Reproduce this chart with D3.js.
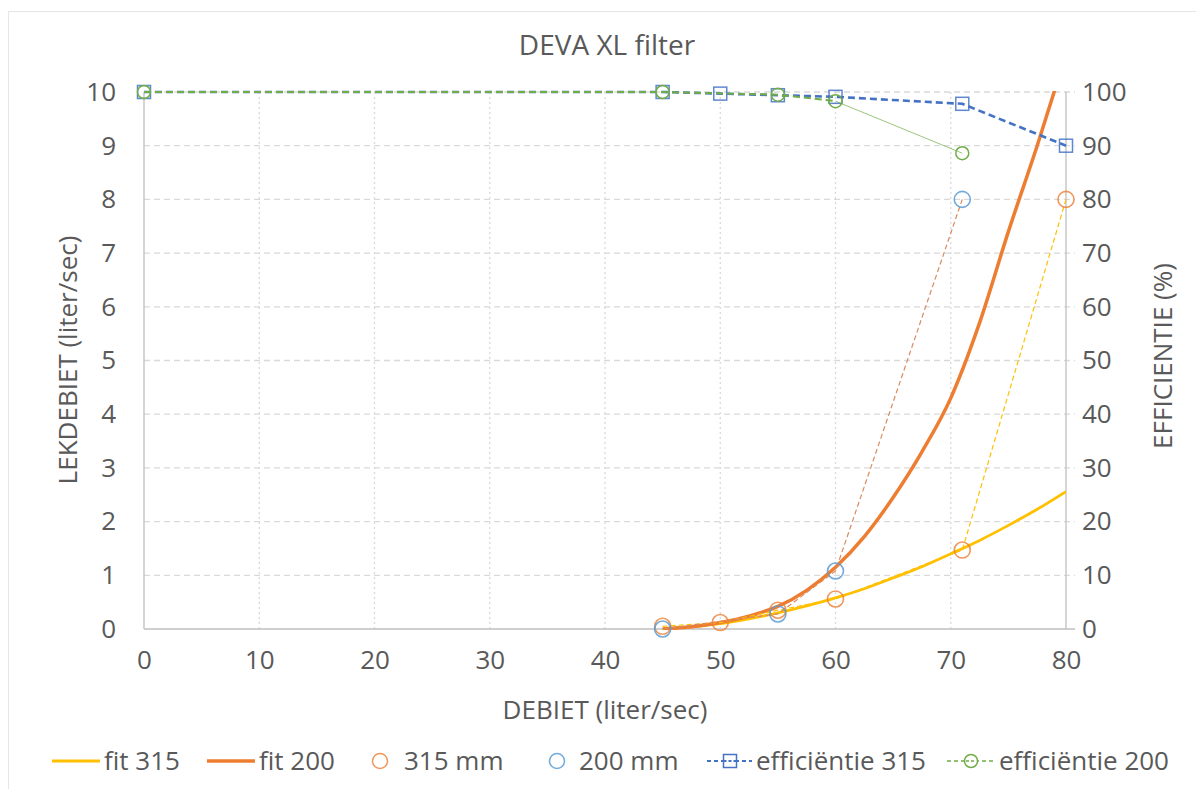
<!DOCTYPE html>
<html>
<head>
<meta charset="utf-8">
<script src="https://cdn.jsdelivr.net/npm/d3@7"></script>
<style>
  body { margin: 0; background: #fff; }
  svg { font-family: "Open Sans", sans-serif; }
  .tick-label { fill: #595959; font-size: 26px; }
  .axis-title { fill: #595959; font-size: 26px; }
  .legend-label { fill: #595959; font-size: 26px; }
</style>
</head>
<body>
<svg width="1196" height="789"></svg>
<script>
// Fitted curves.
var fitX = [45, 47.5, 50, 52.5, 55, 57.5, 60, 62.5, 65, 67.5, 70, 72.5, 75, 77.5, 80];
var fit315 = [0, 0.04, 0.1, 0.19, 0.3, 0.43, 0.58, 0.75, 0.95, 1.16, 1.4, 1.65, 1.93, 2.23, 2.56];
var fit200 = [0, 0.04, 0.12, 0.24, 0.42, 0.72, 1.15, 1.72, 2.45, 3.3, 4.3, 5.7, 7.4, 9.0, 10.7];

// Measured leak flow (liter/sec).
var x315 = [45, 50, 55, 60, 71, 80];
var y315 = [0.05, 0.12, 0.35, 0.56, 1.47, 8];
var x200 = [45, 55, 60, 71];
var y200 = [0, 0.28, 1.08, 8];

// Efficiency (%).
var xEff315 = [0, 45, 50, 55, 60, 71, 80];
var yEff315 = [100, 100, 99.7, 99.4, 99.1, 97.8, 90];
var xEff200 = [0, 45, 55, 60, 71];
var yEff200 = [100, 100, 99.5, 98.3, 88.6];

var xTicks = [0, 10, 20, 30, 40, 50, 60, 70, 80];
var yTicks = [0, 1, 2, 3, 4, 5, 6, 7, 8, 9, 10];
var y2Ticks = [0, 10, 20, 30, 40, 50, 60, 70, 80, 90, 100];

var C = {
    fit315: "#FFC000",
    fit200: "#ED7D31",
    pts315: "#ED7D31",
    pts200: "#5B9BD5",
    eff315: "#4472C4",
    eff200: "#70AD47",
    text: "#595959",
    grid: "#D9D9D9",
    axis: "#BFBFBF"
};

var pLeft = 144, pRight = 1066, pTop = 92, pBottom = 629;

var svg = d3.select("svg");
var x = d3.scaleLinear().domain([0, 80]).range([pLeft, pRight]);
var y = d3.scaleLinear().domain([0, 10]).range([pBottom, pTop]);
var y2 = d3.scaleLinear().domain([0, 100]).range([pBottom, pTop]);

function zip(xs, ys) {
    return xs.map(function(v, i) { return [v, ys[i]]; });
}

// Chart frame.
svg.append("rect")
    .attr("x", 8.5).attr("y", 11.5)
    .attr("width", 1196).attr("height", 800)
    .attr("fill", "none").attr("stroke", "#E6E6E6");

// Title.
svg.append("text")
    .attr("x", 607).attr("y", 55)
    .attr("text-anchor", "middle")
    .attr("fill", C.text)
    .style("font-size", "28px")
    .text("DEVA XL filter");

// Grid lines.
var grid = svg.append("g");
grid.selectAll("line.h")
    .data(yTicks.slice(1))
    .enter().append("line")
    .attr("x1", pLeft).attr("x2", pRight + 9)
    .attr("y1", function(d) { return y(d); })
    .attr("y2", function(d) { return y(d); })
    .attr("stroke", C.grid).attr("stroke-width", 1.3)
    .attr("stroke-dasharray", "6,4");
grid.selectAll("line.v")
    .data(xTicks.slice(1, -1))
    .enter().append("line")
    .attr("y1", pTop).attr("y2", pBottom)
    .attr("x1", function(d) { return x(d); })
    .attr("x2", function(d) { return x(d); })
    .attr("stroke", C.grid).attr("stroke-width", 1.3)
    .attr("stroke-dasharray", "2,3");

// Axis lines.
svg.append("line").attr("x1", pLeft).attr("x2", pLeft).attr("y1", pTop).attr("y2", pBottom)
    .attr("stroke", C.axis).attr("stroke-width", 1.3);
svg.append("line").attr("x1", pLeft).attr("x2", pRight + 9).attr("y1", pBottom).attr("y2", pBottom)
    .attr("stroke", C.axis).attr("stroke-width", 1.3);
svg.append("line").attr("x1", pRight).attr("x2", pRight).attr("y1", pTop).attr("y2", pBottom)
    .attr("stroke", C.axis).attr("stroke-width", 1.3);

// Axes via d3, then restyle.
function styleAxis(g) {
    g.select(".domain").remove();
    g.selectAll(".tick line").remove();
    g.selectAll(".tick text")
        .attr("class", "tick-label")
        .attr("fill", C.text)
        .style("font-family", "Open Sans")
        .style("font-size", "26px");
}

svg.append("g")
    .attr("transform", "translate(0," + pBottom + ")")
    .call(d3.axisBottom(x).tickValues(xTicks).tickSize(0).tickPadding(22))
    .call(styleAxis);

svg.append("g")
    .attr("transform", "translate(" + pLeft + ",0)")
    .call(d3.axisLeft(y).tickValues(yTicks).tickSize(0).tickPadding(28))
    .call(styleAxis);

svg.append("g")
    .attr("transform", "translate(" + pRight + ",0)")
    .call(d3.axisRight(y2).tickValues(y2Ticks).tickSize(0).tickPadding(16))
    .call(styleAxis);

// Axis titles.
svg.append("text").attr("class", "axis-title")
    .attr("x", 605).attr("y", 719)
    .attr("text-anchor", "middle")
    .text("DEBIET (liter/sec)");
svg.append("text").attr("class", "axis-title")
    .attr("transform", "translate(77,360) rotate(-90)")
    .attr("text-anchor", "middle")
    .text("LEKDEBIET (liter/sec)");
svg.append("text").attr("class", "axis-title")
    .attr("transform", "translate(1172,356) rotate(-90)")
    .attr("text-anchor", "middle")
    .text("EFFICIENTIE (%)");

// Clip to plot.
svg.append("clipPath").attr("id", "plot")
    .append("rect").attr("x", pLeft).attr("y", pTop - 1)
    .attr("width", pRight - pLeft).attr("height", pBottom - pTop + 2);

var plot = svg.append("g").attr("clip-path", "url(#plot)");
var marks = svg.append("g");

var smooth = d3.line()
    .x(function(d) { return x(d[0]); })
    .y(function(d) { return y(d[1]); })
    .curve(d3.curveMonotoneX);
var straight = d3.line()
    .x(function(d) { return x(d[0]); })
    .y(function(d) { return y(d[1]); });
var straight2 = d3.line()
    .x(function(d) { return x(d[0]); })
    .y(function(d) { return y2(d[1]); });

// Fit curves.
plot.append("path").datum(zip(fitX, fit315))
    .attr("d", smooth).attr("fill", "none")
    .attr("stroke", C.fit315).attr("stroke-width", 2.8);
plot.append("path").datum(zip(fitX, fit200))
    .attr("d", smooth).attr("fill", "none")
    .attr("stroke", C.fit200).attr("stroke-width", 3.5);

// Thin connectors of the measured series.
marks.append("path").datum(zip(x315, y315))
    .attr("d", straight).attr("fill", "none")
    .attr("stroke", C.fit315).attr("stroke-width", 1.2)
    .attr("stroke-dasharray", "5,3");
marks.append("path").datum(zip(x200, y200))
    .attr("d", straight).attr("fill", "none")
    .attr("stroke", "#D98B5F").attr("stroke-width", 1.2)
    .attr("stroke-dasharray", "5,3");

// Measured points.
marks.selectAll("circle.p315")
    .data(zip(x315, y315))
    .enter().append("circle")
    .attr("cx", function(d) { return x(d[0]); })
    .attr("cy", function(d) { return y(d[1]); })
    .attr("r", 8)
    .attr("fill", "none").attr("stroke", C.pts315)
    .attr("stroke-opacity", 0.8).attr("stroke-width", 1.6);
marks.selectAll("circle.p200")
    .data(zip(x200, y200))
    .enter().append("circle")
    .attr("cx", function(d) { return x(d[0]); })
    .attr("cy", function(d) { return y(d[1]); })
    .attr("r", 8)
    .attr("fill", "none").attr("stroke", C.pts200)
    .attr("stroke-opacity", 0.85).attr("stroke-width", 1.6);

// Efficiency 315.
var eff315 = zip(xEff315, yEff315);
marks.append("path").datum(eff315)
    .attr("d", straight2).attr("fill", "none")
    .attr("stroke", C.eff315).attr("stroke-width", 2.6)
    .attr("stroke-dasharray", "7,4");
marks.selectAll("rect.e315")
    .data(eff315)
    .enter().append("rect")
    .attr("x", function(d) { return x(d[0]) - 6.5; })
    .attr("y", function(d) { return y2(d[1]) - 6.5; })
    .attr("width", 13).attr("height", 13)
    .attr("fill", "none").attr("stroke", C.eff315)
    .attr("stroke-opacity", 0.85).attr("stroke-width", 1.5);

// Efficiency 200: dashed while close to 100 %, thin afterwards.
var eff200 = zip(xEff200, yEff200);
var split = 3;
marks.append("path").datum(eff200.slice(0, split + 1))
    .attr("d", straight2).attr("fill", "none")
    .attr("stroke", C.eff200).attr("stroke-width", 2)
    .attr("stroke-dasharray", "7,4");
marks.append("path").datum(eff200.slice(split))
    .attr("d", straight2).attr("fill", "none")
    .attr("stroke", C.eff200).attr("stroke-opacity", 0.7)
    .attr("stroke-width", 1);
marks.selectAll("circle.e200")
    .data(eff200)
    .enter().append("circle")
    .attr("cx", function(d) { return x(d[0]); })
    .attr("cy", function(d) { return y2(d[1]); })
    .attr("r", 6.5)
    .attr("fill", "none").attr("stroke", C.eff200)
    .attr("stroke-width", 1.5);

// Legend.
var ly = 761;
var legend = svg.append("g");
function legendText(tx, label) {
    legend.append("text").attr("class", "legend-label")
        .attr("x", tx).attr("y", ly + 9).text(label);
}
legend.append("line").attr("x1", 52).attr("x2", 100).attr("y1", ly).attr("y2", ly)
    .attr("stroke", C.fit315).attr("stroke-width", 2.8);
legendText(104, "fit 315");
legend.append("line").attr("x1", 207).attr("x2", 255).attr("y1", ly).attr("y2", ly)
    .attr("stroke", C.fit200).attr("stroke-width", 3.5);
legendText(259, "fit 200");
legend.append("circle").attr("cx", 380).attr("cy", ly).attr("r", 7.5)
    .attr("fill", "none").attr("stroke", C.pts315).attr("stroke-opacity", 0.8).attr("stroke-width", 1.5);
legendText(404, "315 mm");
legend.append("circle").attr("cx", 557).attr("cy", ly).attr("r", 7.5)
    .attr("fill", "none").attr("stroke", C.pts200).attr("stroke-opacity", 0.85).attr("stroke-width", 1.5);
legendText(579, "200 mm");
legend.append("line").attr("x1", 707).attr("x2", 752).attr("y1", ly).attr("y2", ly)
    .attr("stroke", C.eff315).attr("stroke-width", 2).attr("stroke-dasharray", "4,3");
legend.append("rect").attr("x", 723.5).attr("y", ly - 6.5).attr("width", 13).attr("height", 13)
    .attr("fill", "#fff").attr("stroke", C.eff315).attr("stroke-width", 1.5);
legend.append("line").attr("x1", 723.5).attr("x2", 736.5).attr("y1", ly).attr("y2", ly)
    .attr("stroke", C.eff315).attr("stroke-width", 2).attr("stroke-dasharray", "3,2");
legendText(756, "efficiëntie 315");
legend.append("line").attr("x1", 947).attr("x2", 995).attr("y1", ly).attr("y2", ly)
    .attr("stroke", C.eff200).attr("stroke-width", 1.6).attr("stroke-dasharray", "4,3");
legend.append("circle").attr("cx", 971).attr("cy", ly).attr("r", 6.5)
    .attr("fill", "#fff").attr("stroke", C.eff200).attr("stroke-width", 1.5);
legend.append("line").attr("x1", 966).attr("x2", 976).attr("y1", ly).attr("y2", ly)
    .attr("stroke", C.eff200).attr("stroke-width", 1.6).attr("stroke-dasharray", "3,2");
legendText(999, "efficiëntie 200");
</script>
</body>
</html>
